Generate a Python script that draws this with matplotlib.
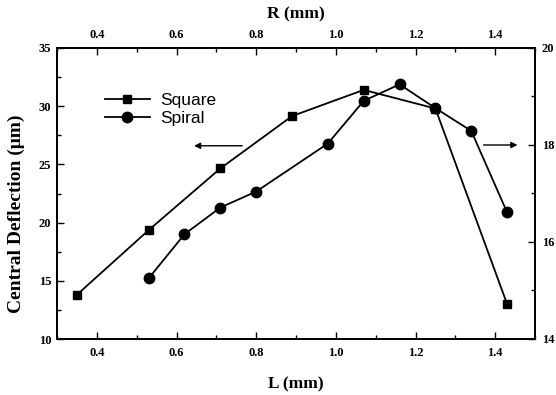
import matplotlib
matplotlib.use("Agg")
import matplotlib.pyplot as plt
from matplotlib.ticker import MultipleLocator

# Data
square_L = [0.35, 0.53, 0.71, 0.89, 1.07, 1.25, 1.43]
square_defl = [13.8, 19.35, 24.65, 29.15, 31.4, 29.8, 13.0]
spiral_L = [0.53, 0.62, 0.71, 0.80, 0.98, 1.07, 1.16, 1.25, 1.34, 1.43]
spiral_defl = [15.25, 16.16, 16.71, 17.04, 18.03, 18.91, 19.25, 18.76, 18.29, 16.61]

x_label = "L (mm)"
top_label = "R (mm)"
y_label = "Central Deflection (\u03bcm)"
y2_ticks = [14, 16, 18, 20]

serif = ["Liberation Serif", "DejaVu Serif"]
sans = ["Liberation Sans", "DejaVu Sans"]

fig = plt.figure(figsize=(5.56, 3.95), dpi=100)
ax = fig.add_axes([57/556, 1-339/395, (535-57)/556, (339-48)/395])
ax2 = ax.twinx()
ax3 = ax.twiny()

lw = 1.3
l1, = ax.plot(square_L, square_defl, color="black", lw=lw, marker="s", ms=5.5,
              label="Square")
l2, = ax2.plot(spiral_L, spiral_defl, color="black", lw=lw, marker="o", ms=7.5,
               label="Spiral")

ax.set_xlim(0.3, 1.5)
ax.set_ylim(10, 35)
ax2.set_ylim(14, 20)
ax3.set_xlim(0.3, 1.5)

ax.xaxis.set_major_locator(MultipleLocator(0.2))
ax.xaxis.set_minor_locator(MultipleLocator(0.1))
ax3.xaxis.set_major_locator(MultipleLocator(0.2))
ax3.xaxis.set_minor_locator(MultipleLocator(0.1))
ax.yaxis.set_major_locator(MultipleLocator(5))
ax.yaxis.set_minor_locator(MultipleLocator(2.5))
ax2.set_yticks(y2_ticks)
ax2.yaxis.set_minor_locator(MultipleLocator(1))

for a in (ax, ax2, ax3):
    a.tick_params(which="both", direction="in", width=1.0, colors="black")
    a.tick_params(which="major", length=5)
    a.tick_params(which="minor", length=3)
    for lab in a.get_xticklabels() + a.get_yticklabels():
        lab.set_fontfamily(serif)
        lab.set_fontweight("bold")
        lab.set_fontsize(9)
    for s in a.spines.values():
        s.set_linewidth(1.2)

ax.tick_params(axis="x", pad=6)
ax.tick_params(axis="y", pad=4)
ax2.tick_params(axis="y", pad=5)
ax3.tick_params(axis="x", pad=5)
ax.yaxis.set_ticks_position("left")
ax.xaxis.set_ticks_position("bottom")
ax3.xaxis.set_ticks_position("top")

ax.set_xlabel(x_label, fontfamily=serif, fontweight="bold", fontsize=12.5, labelpad=12)
ax3.set_xlabel(top_label, fontfamily=serif, fontweight="bold", fontsize=12.5, labelpad=8)
ax.set_ylabel(y_label, fontfamily=serif, fontweight="bold", fontsize=14)
ax.yaxis.set_label_coords(-0.066, 0.43)

leg = ax.legend(handles=[l1, l2], loc="upper left", bbox_to_anchor=(0.085, 0.87),
                frameon=False, prop=dict(family=sans, size=12.5),
                handlelength=2.6, handletextpad=0.6, labelspacing=0.15,
                borderaxespad=0)

ax.annotate("", xy=(0.644, 26.6), xytext=(0.765, 26.6),
            arrowprops=dict(arrowstyle="-|>", color="black", lw=1.0,
                            mutation_scale=9, shrinkA=0, shrinkB=0))
ax2.annotate("", xy=(1.456, 18.0), xytext=(1.371, 18.0),
             arrowprops=dict(arrowstyle="-|>", color="black", lw=1.0,
                             mutation_scale=9, shrinkA=0, shrinkB=0))

fig.savefig("out.png", dpi=100)
